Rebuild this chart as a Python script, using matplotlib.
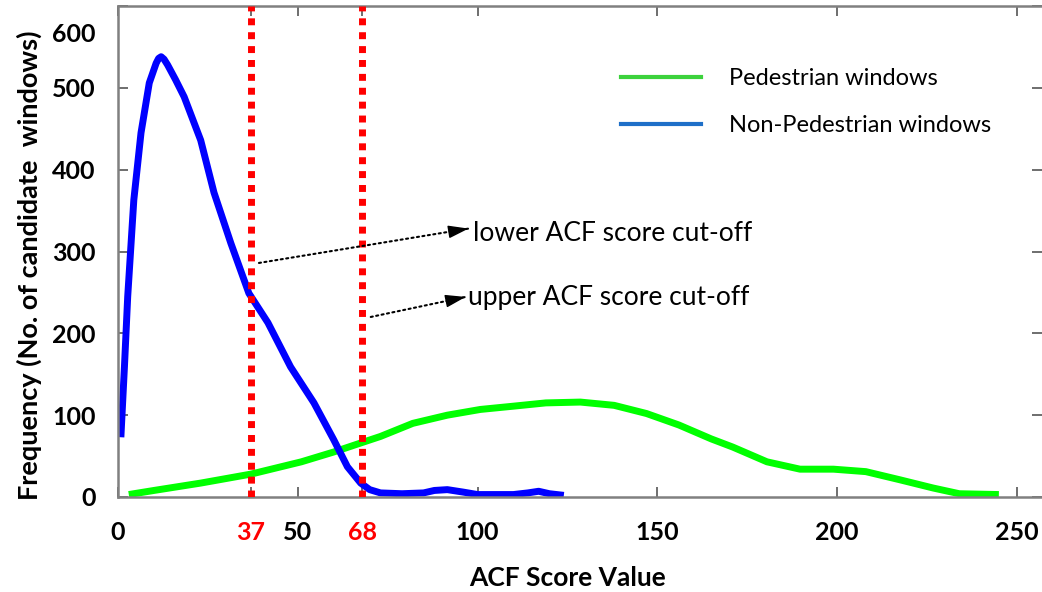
import numpy as np
from matplotlib import pyplot as plt
from matplotlib.lines import Line2D
from matplotlib.transforms import ScaledTranslation

# ACF score value vs frequency
ped_x = [3, 10, 23, 37, 51, 60, 67.5, 73, 82, 91.6, 100.8, 110, 119, 128.6,
         138, 147, 156, 165, 171, 180.5, 189.7, 199, 208, 217.5, 226.7, 234, 245]
ped_y = [3, 8, 17, 28, 43, 55, 66, 74, 90, 100, 107, 111, 115, 116,
         112, 102, 88, 71, 61, 43, 34, 34, 31, 21, 11, 4, 3]

nonped_x = [0.8, 1.8, 2.7, 4.4, 6.4, 8.7, 10.6, 11.3, 12, 12.8, 13.8, 16, 18.4,
            23, 26.7, 31.4, 36.4, 41.7, 48, 54.5, 60, 63.8, 67.5, 70, 73, 79,
            85, 88, 91.6, 96, 100, 105, 110, 114, 117, 120, 124]
nonped_y = [73, 160, 245, 363, 445, 506, 530, 536, 538, 535, 528, 510, 489,
            436, 372, 310, 249, 213, 159, 115, 70, 37, 17, 9, 5, 4,
            5, 8, 9, 6, 3, 3, 3, 5, 7, 4, 2]

cutoffs = [37, 68]
xticks = [0, 37, 50, 68, 100, 150, 200, 250]
yticks = [0, 100, 200, 300, 400, 500, 600]

plt.rcParams['font.family'] = ['Lato', 'DejaVu Sans']

fig = plt.figure(figsize=(10.42, 5.92), dpi=100)
ax = fig.add_axes([118/1042, 1-497/592, 924/1042, 491/592])

ax.plot(ped_x, ped_y, color='#00ff00', lw=5, solid_capstyle='butt',
        solid_joinstyle='round', zorder=2)
ax.plot(nonped_x, nonped_y, color='#0000ff', lw=5, solid_capstyle='butt',
        solid_joinstyle='round', zorder=2)
for c in cutoffs:
    ax.axvline(c, color='#ff0000', lw=5, linestyle=(0, (1, 1)), zorder=3)

ax.set_xlim(0, 257)
ax.set_ylim(0, 600)
ax.set_xticks(xticks)
ax.set_xticklabels([str(t) for t in xticks], fontsize=18, fontweight='bold')
for lab, t in zip(ax.get_xticklabels(), xticks):
    if t in cutoffs:
        lab.set_color('#ff0000')
ax.set_yticks(yticks)
ax.set_yticklabels([str(t) for t in yticks], fontsize=18, fontweight='bold')
ax.tick_params(axis='x', direction='in', top=True, length=7, width=1.2,
               color='#555555', pad=17)
ax.tick_params(axis='y', direction='in', right=True, length=7, width=1.2,
               color='#555555', pad=16)
# top label sits a bit lower in the original
top_lab = ax.get_yticklabels()[-1]
top_lab.set_transform(top_lab.get_transform() +
                      ScaledTranslation(0, -0.26, fig.dpi_scale_trans))

for s in ['left', 'bottom', 'top']:
    ax.spines[s].set_color('#808080')
    ax.spines[s].set_linewidth(1.8)
ax.spines['right'].set_visible(False)

ax.set_xlabel('ACF Score Value', fontsize=19, fontweight='bold')
ax.xaxis.set_label_coords(0.486, -0.14)
ax.set_ylabel('Frequency (No. of candidate  windows)', fontsize=19.5, fontweight='bold')
ax.yaxis.set_label_coords(-0.082, 0.4725)

# annotation arrows (dotted shaft + solid head)
arrows = [((39.2, 286), (97.5, 328), 'lower ACF score cut-off', (98.8, 322)),
          ((70.3, 220), (96.7, 244.5), 'upper ACF score cut-off', (97.4, 244))]
for start, tip, txt, tpos in arrows:
    ax.annotate('', xy=tip, xytext=start,
                arrowprops=dict(arrowstyle='-', linestyle=':', lw=1.5, color='black',
                                shrinkA=0, shrinkB=0))
    d = np.array(tip) - np.array(start)
    pre = (tip[0] - d[0]*0.06, tip[1] - d[1]*0.06)
    ax.annotate('', xy=tip, xytext=pre,
                arrowprops=dict(arrowstyle='-|>,head_length=0.7,head_width=0.22',
                                lw=1, color='black', shrinkA=0, shrinkB=0,
                                mutation_scale=18))
    ax.text(tpos[0], tpos[1], txt, fontsize=19, va='center', ha='left')

handles = [Line2D([], [], color='#3cd23c', lw=3),
           Line2D([], [], color='#1e6fc8', lw=3)]
ax.legend(handles, ['Pedestrian windows', 'Non-Pedestrian windows'],
          loc='upper left', bbox_to_anchor=(0.544, 0.874), frameon=False,
          fontsize=17, handlelength=3.4, handletextpad=1.2, labelspacing=1.1,
          borderpad=0, borderaxespad=0)

fig.savefig('out.png', dpi=100)
